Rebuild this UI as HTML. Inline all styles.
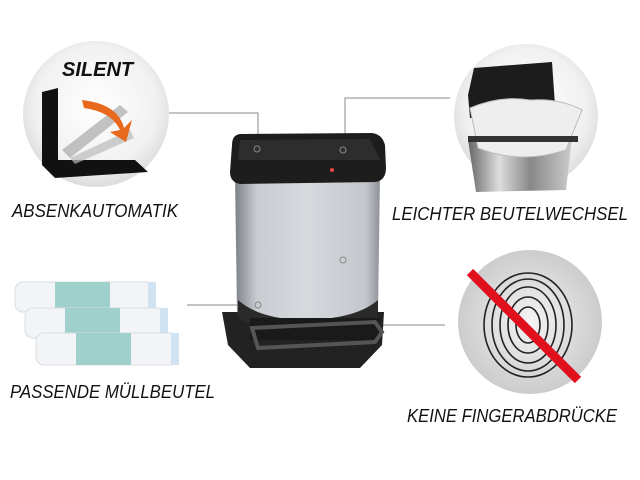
<!DOCTYPE html>
<html><head><meta charset="utf-8"><style>
html,body{margin:0;padding:0;background:#fff;}
svg{display:block}
text{font-family:"Liberation Sans",sans-serif;font-style:italic;fill:#111;}
</style></head><body>
<svg width="640" height="480" viewBox="0 0 640 480" xmlns="http://www.w3.org/2000/svg">
<defs>
<radialGradient id="cg" cx="50%" cy="45%" r="55%"><stop offset="0" stop-color="#fff"/><stop offset="0.75" stop-color="#f1f1f1"/><stop offset="1" stop-color="#dcdcdc"/></radialGradient>
<radialGradient id="fg" cx="50%" cy="50%" r="55%"><stop offset="0" stop-color="#f4f4f4"/><stop offset="1" stop-color="#c8c8c8"/></radialGradient>
<linearGradient id="body" x1="0" x2="1"><stop offset="0" stop-color="#7d8188"/><stop offset="0.15" stop-color="#c9ccd1"/><stop offset="0.5" stop-color="#d6d9dd"/><stop offset="0.9" stop-color="#c4c7cc"/><stop offset="1" stop-color="#8e9298"/></linearGradient>
<linearGradient id="steel" x1="0" x2="1"><stop offset="0" stop-color="#666"/><stop offset="0.3" stop-color="#ddd"/><stop offset="0.6" stop-color="#888"/><stop offset="1" stop-color="#ccc"/></linearGradient>
</defs>
<g stroke="#888" stroke-width="1" fill="none">
<polyline points="168,113 258,113 258,147"/>
<polyline points="450,98 345,98 345,148"/>
<polyline points="187,305 255,305"/>
<polyline points="343,263 343,325 445,325"/>
</g>
<circle cx="96" cy="114" r="73" fill="url(#cg)"/>
<text x="62" y="76" font-size="20" font-weight="bold" fill="#222">SILENT</text>
<path d="M42 92 L58 88 L58 160 L135 160 L148 172 L55 178 L42 165 Z" fill="#111"/>
<path d="M62 150 L120 105 L128 112 L70 158 Z" fill="#aaa" opacity="0.7"/>
<path d="M70 158 L130 130 L134 138 L75 164 Z" fill="#bbb" opacity="0.7"/>
<path d="M82 100 Q118 104 124 128 L132 120 L126 142 L110 132 L120 130 Q112 112 84 108 Z" fill="#e8691c"/>
<text x="12" y="217" font-size="18" textLength="166" lengthAdjust="spacingAndGlyphs">ABSENKAUTOMATIK</text>
<circle cx="526" cy="116" r="72" fill="url(#cg)"/>
<path d="M468 95 L474 68 L552 62 L556 120 L470 118 Z" fill="#1c1c1c"/>
<path d="M468 140 L572 138 L566 190 L476 192 Z" fill="url(#steel)"/>
<path d="M470 108 Q500 95 530 100 Q560 98 582 110 L566 150 Q520 165 478 148 Z" fill="#eee" stroke="#bbb"/>
<rect x="468" y="136" width="110" height="6" fill="#333"/>
<text x="392" y="220" font-size="18" textLength="236" lengthAdjust="spacingAndGlyphs">LEICHTER BEUTELWECHSEL</text>
<g>
<rect x="15" y="282" width="140" height="30" rx="8" fill="#f2f4f6" stroke="#d8dde2"/>
<rect x="55" y="282" width="55" height="30" fill="#9fd0cc"/>
<rect x="148" y="282" width="8" height="30" fill="#cfe3f2"/>
<rect x="25" y="308" width="142" height="30" rx="8" fill="#f2f4f6" stroke="#d8dde2"/>
<rect x="65" y="308" width="55" height="30" fill="#9fd0cc"/>
<rect x="160" y="308" width="8" height="30" fill="#cfe3f2"/>
<rect x="36" y="333" width="142" height="32" rx="8" fill="#f2f4f6" stroke="#d8dde2"/>
<rect x="76" y="333" width="55" height="32" fill="#9fd0cc"/>
<rect x="171" y="333" width="8" height="32" fill="#cfe3f2"/>
</g>
<text x="10" y="398" font-size="18" textLength="205" lengthAdjust="spacingAndGlyphs">PASSENDE MÜLLBEUTEL</text>
<circle cx="530" cy="322" r="72" fill="url(#fg)"/>
<g fill="none" stroke="#222" stroke-width="1.6">
<ellipse cx="528" cy="325" rx="12" ry="18"/>
<ellipse cx="528" cy="325" rx="20" ry="28"/>
<ellipse cx="528" cy="325" rx="28" ry="38"/>
<ellipse cx="528" cy="325" rx="36" ry="46"/>
<ellipse cx="528" cy="325" rx="44" ry="52"/>
</g>
<line x1="470" y1="272" x2="578" y2="380" stroke="#e0101c" stroke-width="9"/>
<text x="407" y="422" font-size="18" textLength="210" lengthAdjust="spacingAndGlyphs">KEINE FINGERABDRÜCKE</text>
<path d="M222 312 L384 312 L382 345 L360 368 L250 368 L228 345 Z" fill="#222"/>
<path d="M235 175 L380 175 L378 312 Q360 322 300 322 Q255 322 237 312 Z" fill="url(#body)"/>
<path d="M238 300 Q258 318 300 320 Q355 320 378 300 L378 318 Q355 330 300 330 Q258 330 238 318 Z" fill="#2a2a2a"/>
<rect x="250" y="318" width="130" height="22" fill="#1a1a1a"/>
<path d="M252 328 L375 322 L382 332 L375 342 L258 348 Z" fill="none" stroke="#555" stroke-width="4"/>
<path d="M232 145 Q232 135 240 134 L372 133 Q382 134 385 145 L386 168 Q386 180 376 182 L240 184 Q230 182 230 172 Z" fill="#1d1d1d"/>
<path d="M240 140 L370 139 L380 160 L238 160 Z" fill="#2d2d2e"/>
<circle cx="332" cy="170" r="2" fill="#e44"/>
<g fill="none" stroke="#888"><circle cx="257" cy="149" r="3"/><circle cx="343" cy="150" r="3"/><circle cx="343" cy="260" r="3"/><circle cx="258" cy="305" r="3"/></g>
</svg>
</body></html>
